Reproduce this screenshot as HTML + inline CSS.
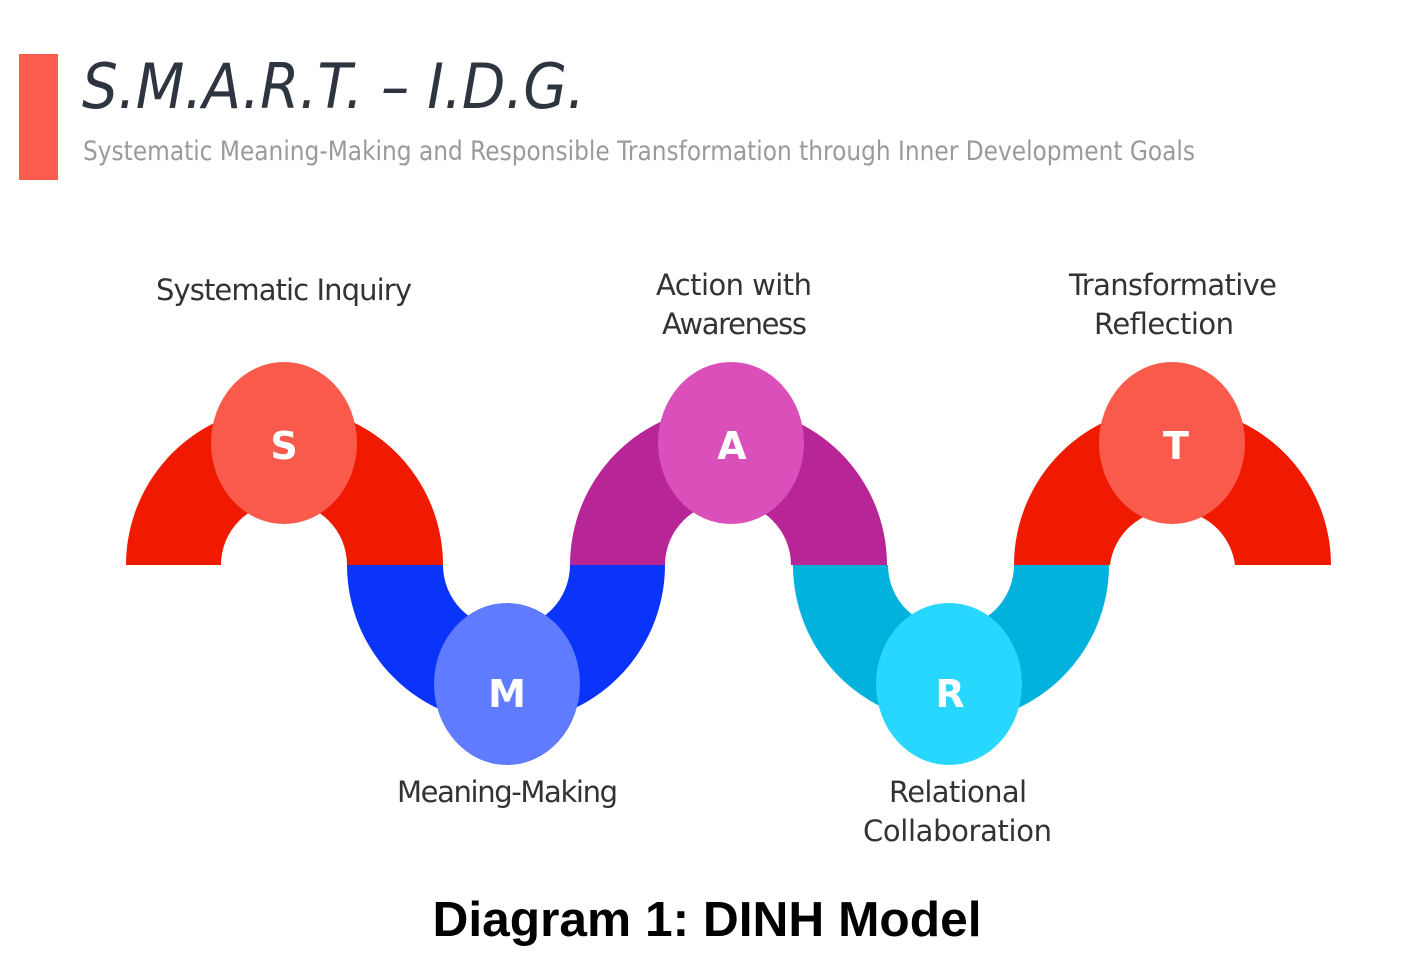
<!DOCTYPE html>
<html><head><meta charset="utf-8"><style>
html,body{margin:0;padding:0;background:#fff;}
svg{display:block;}
</style></head><body>
<svg width="1414" height="969" viewBox="0 0 1414 969" xmlns="http://www.w3.org/2000/svg">
<rect x="19" y="54" width="39" height="126" fill="#fc5c4e"/>
<text x="82" y="108" font-family="DejaVu Sans, Liberation Sans, sans-serif" font-style="italic" font-size="62" fill="#2f3540" textLength="503" lengthAdjust="spacingAndGlyphs">S.M.A.R.T. – I.D.G.</text>
<text x="83" y="160" font-family="DejaVu Sans, Liberation Sans, sans-serif" font-size="27" fill="#9a9a9a" textLength="1112" lengthAdjust="spacingAndGlyphs">Systematic Meaning-Making and Responsible Transformation through Inner Development Goals</text>

<g font-family="DejaVu Sans, Liberation Sans, sans-serif" font-size="29" fill="#333" lengthAdjust="spacingAndGlyphs">
<text x="156" y="300" textLength="256">Systematic Inquiry</text>
<text x="656" y="295" textLength="156">Action with</text>
<text x="662" y="334" textLength="145">Awareness</text>
<text x="1069" y="295" textLength="208">Transformative</text>
<text x="1094" y="334" textLength="140">Reflection</text>
<text x="397" y="802" textLength="221">Meaning-Making</text>
<text x="889" y="802" textLength="138">Relational</text>
<text x="863" y="841" textLength="189">Collaboration</text>
</g>

<path d="M126,565 A158.5,158.5 0 0 1 443,565 L347,565 A63,63 0 0 0 221,565 Z" fill="#f01a00"/>
<path d="M570,565 A158.5,158.5 0 0 1 887,565 L791,565 A63,63 0 0 0 665,565 Z" fill="#b82597"/>
<path d="M1014,565 A158.5,158.5 0 0 1 1331,565 L1235,565 A63,63 0 0 0 1110,565 Z" fill="#f01a00"/>
<path d="M347,565 A159,159 0 0 0 665,565 L570,565 A63.5,63.5 0 0 1 443,565 Z" fill="#0b34fb"/>
<path d="M793,565 A158,158 0 0 0 1109,565 L1014,565 A63,63 0 0 1 888,565 Z" fill="#00b2dc"/>

<ellipse cx="284" cy="443" rx="73" ry="81" fill="#fa5a4b"/>
<ellipse cx="507" cy="684" rx="73" ry="81" fill="#5f7bff"/>
<ellipse cx="731" cy="443" rx="73" ry="81" fill="#da4fba"/>
<ellipse cx="949" cy="684" rx="73" ry="81" fill="#27d7fd"/>
<ellipse cx="1172" cy="443" rx="73" ry="81" fill="#fa5a4b"/>
<g font-family="DejaVu Sans, Liberation Sans, sans-serif" font-size="38" font-weight="bold" fill="#fff" text-anchor="middle">
<text x="284" y="459">S</text>
<text x="507" y="707">M</text>
<text x="732" y="459">A</text>
<text x="950" y="707">R</text>
<text x="1176" y="459">T</text>
</g>

<text x="707" y="936" font-family="Liberation Sans, Arial, sans-serif" font-weight="bold" font-size="49" fill="#000" text-anchor="middle" textLength="549" lengthAdjust="spacingAndGlyphs">Diagram 1: DINH Model</text>
</svg>
</body></html>
